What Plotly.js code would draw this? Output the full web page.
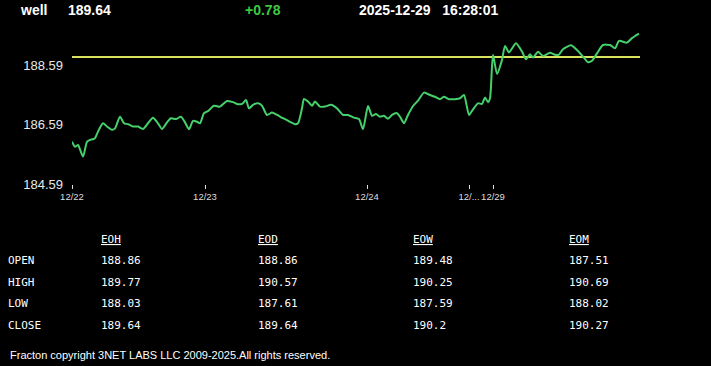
<!DOCTYPE html>
<html>
<head>
<meta charset="utf-8">
<script src="https://cdn.plot.ly/plotly-3.0.1.min.js"></script>
<style>
html,body{margin:0;padding:0;background:#000;}
#chart{width:711px;height:366px;}
</style>
</head>
<body>
<div id="chart"></div>
<script>
// ---- data ----
const symbol = "well";
const lastPrice = "189.64";
const change = "+0.78";
const timestamp = "2025-12-29   16:28:01";

const barIndex = [0,3,6,11,15,18,23,26,31,35,40,43,48,52,56,61,66,71,76,81,86,90,95,99,104,109,113,117,121,125,128,132,136,142,148,155,161,166,170,174,177,181,186,190,195,200,205,211,218,223,226,230,232,236,240,243,248,253,259,265,271,276,282,287,291,296,300,304,308,312,316,320,325,328,332,336,341,346,352,358,363,368,372,377,383,388,392,397,401,406,410,413,416,418,421,425,430,433,437,444,450,454,458,461,466,471,478,483,487,491,499,505,511,516,520,525,531,538,543,547,555,560,567];
const price = [186.01,185.84,185.90,185.51,186.01,186.07,186.13,186.35,186.63,186.52,186.41,186.46,186.85,186.63,186.60,186.52,186.52,186.44,186.63,186.82,186.63,186.44,186.66,186.80,186.77,186.85,186.66,186.43,186.71,186.68,186.63,186.97,187.04,187.22,187.19,187.38,187.34,187.27,187.28,187.41,187.13,187.25,187.30,187.22,186.91,186.99,186.91,186.80,186.68,186.60,186.63,187.13,187.45,187.36,187.22,187.36,187.19,187.19,187.25,187.13,186.91,186.91,186.82,186.77,186.43,187.21,186.88,186.94,186.85,186.88,186.78,186.91,186.97,186.85,186.63,186.91,187.21,187.39,187.66,187.58,187.52,187.44,187.52,187.44,187.44,187.47,187.58,186.91,187.10,187.30,187.28,187.50,187.34,187.47,188.93,188.29,188.76,189.23,189.01,189.32,189.04,188.78,188.95,188.84,189.03,188.89,189.00,188.93,188.94,189.12,189.25,189.09,188.87,188.68,188.73,188.98,189.26,189.26,189.15,189.40,189.34,189.49,189.64];
const refLevel = 188.86;

const tickBars = [0,133,295,397,421];
const tickLabels = ["12/22","12/23","12/24","12/...","12/29"];
const yTicks = [184.59,186.59,188.59];

const tableCols = ["EOH","EOD","EOW","EOM"];
const rowLabels = ["OPEN","HIGH","LOW","CLOSE"];
const eohValues = ["188.86","189.77","188.03","189.64"];
const eodValues = ["188.86","190.57","187.61","189.64"];
const eowValues = ["189.48","190.25","187.59","190.2"];
const eomValues = ["187.51","190.69","188.02","190.27"];
const footer = "Fracton copyright 3NET LABS LLC 2009-2025.All rights reserved.";

// ---- layout helpers ----
const W = 711, H = 366;
const mL = 72, mR = 71, mT = 20, mB = 182;
const pw = W - mL - mR, ph = H - mT - mB;
const px = x => (x - mL) / pw;      // pixel -> paper x
const py = y => (H - mB - y) / ph;  // pixel -> paper y

const xMax = 568;
const traces = [
  {
    x: [0, xMax], y: [refLevel, refLevel], mode: "lines",
    line: {color: "#d9e25c", width: 2}, hoverinfo: "skip"
  },
  {
    x: barIndex, y: price, mode: "lines",
    line: {color: "#45d06c", width: 2, shape: "spline", smoothing: 0.6},
    hoverinfo: "skip"
  }
];

const ann = [];
const hdrFont = {family: "Liberation Sans, Arial, sans-serif", size: 14, color: "#ffffff", weight: "bold"};
function txt(text, x, y, font, anchor) {
  ann.push({text: text, xref: "paper", yref: "paper", x: px(x), y: py(y),
    xanchor: anchor || "left", yanchor: "middle", showarrow: false, font: font});
}
txt("<b>" + symbol + "</b>", 18, 10, hdrFont);
txt("<b>" + lastPrice + "</b>", 66, 10, hdrFont);
txt("<b>" + change + "</b>", 243, 10, Object.assign({}, hdrFont, {color: "#3fc83f"}));
txt("<b>" + timestamp.replace(/ /g, "&nbsp;") + "</b>", 357, 10, hdrFont);

const monoFont = {family: "DejaVu Sans Mono, monospace", size: 11, color: "#ffffff"};
const colX = [99, 256, 411, 567];
const rowY = [260, 282, 303, 325];
const colVals = [eohValues, eodValues, eowValues, eomValues];
tableCols.forEach((c, i) => txt("<u>" + c + "</u>", colX[i], 239, monoFont));
rowLabels.forEach((r, j) => {
  txt(r, 6, rowY[j], monoFont);
  colVals.forEach((vals, i) => txt(vals[j], colX[i], rowY[j], monoFont));
});
txt(footer, 8, 355, {family: "Liberation Sans, Arial, sans-serif", size: 11, color: "#ffffff"});

const layout = {
  width: W, height: H,
  margin: {l: mL, r: mR, t: mT, b: mB, pad: 0},
  paper_bgcolor: "#000000", plot_bgcolor: "#000000",
  showlegend: false,
  xaxis: {
    range: [0, xMax], showgrid: false, zeroline: false, showline: false,
    tickmode: "array", tickvals: tickBars, ticktext: tickLabels,
    ticks: "outside", ticklen: 4, tickwidth: 1, tickcolor: "#dddddd",
    tickangle: 0, automargin: false,
    tickfont: {family: "Liberation Sans, Arial, sans-serif", size: 9.5, color: "#dddddd"}
  },
  yaxis: {
    range: [184.59, 190.10], showgrid: false, zeroline: false, showline: false,
    tickmode: "array", tickvals: yTicks, ticktext: yTicks.map(v => v.toFixed(2)),
    ticks: "", ticklabelstandoff: 8, automargin: false,
    tickfont: {family: "Liberation Sans, Arial, sans-serif", size: 13, color: "#e8e8e8"}
  },
  annotations: ann
};

Plotly.newPlot("chart", traces, layout, {displayModeBar: false, staticPlot: true});
</script>
</body>
</html>
